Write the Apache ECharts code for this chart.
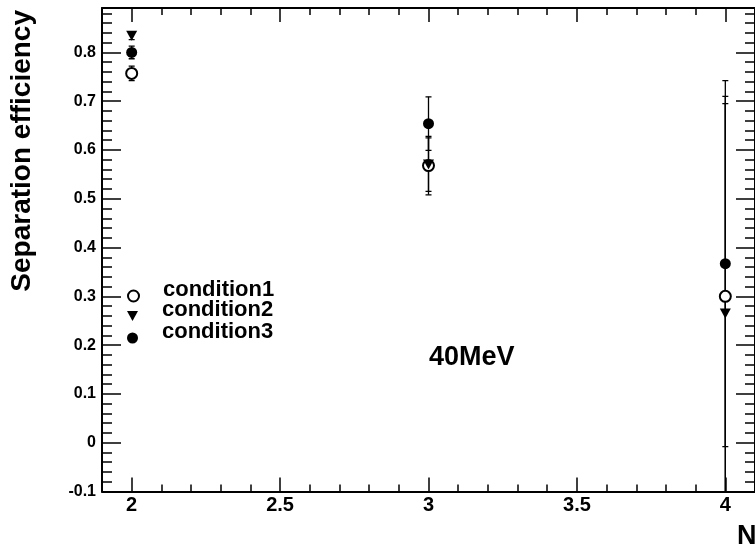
<!DOCTYPE html>
<html>
<head>
<meta charset="utf-8">
<script src="https://cdn.jsdelivr.net/npm/echarts@6/dist/echarts.min.js"></script>
<style>
html,body{margin:0;padding:0;background:#fff;}
#c{width:755px;height:550px;}
</style>
</head>
<body>
<div id="c"></div>
<script>
// ---- data ----
const nValues = [2, 3, 4];
const cond1 = [0.757, 0.568, 0.300];
const cond1Err = [0.015, 0.060, 0.410];
const cond2 = [0.834, 0.570, 0.265];
const cond2Err = [0.008, 0.055, 0.430];
const cond3 = [0.800, 0.654, 0.367];
const cond3Err = [0.013, 0.055, 0.375];
const seriesNames = ['condition1', 'condition2', 'condition3'];
const xMajorTicks = [2, 2.5, 3, 3.5, 4];
const yMajorTicks = [-0.1, 0, 0.1, 0.2, 0.3, 0.4, 0.5, 0.6, 0.7, 0.8];
const xRange = [1.9, 4.1];
const yRange = [-0.1, 0.891];
const xTitle = 'N';
const yTitle = 'Separation efficiency';
const energyLabel = '40MeV';

// minor tick positions
const xMinorTicks = [];
for (let i = 19; i <= 41; i++) xMinorTicks.push(Math.round(i) / 10);
const yMinorTicks = [];
for (let i = -5; i <= 44; i++) yMinorTicks.push(Math.round(i * 2) / 100);

const FONT = '"Liberation Sans", Arial, Helvetica, sans-serif';

function pts(vals) { return nValues.map((x, i) => [x, vals[i]]); }
function errs(vals, e) { return nValues.map((x, i) => [x, vals[i] - e[i], vals[i] + e[i]]); }

function errRender(params, api) {
  const x = api.value(0);
  const lo = api.coord([x, api.value(1)]);
  const hi = api.coord([x, api.value(2)]);
  const cw = 3;
  const st = { stroke: '#000', lineWidth: 1.3 };
  return {
    type: 'group',
    children: [
      { type: 'line', shape: { x1: lo[0], y1: lo[1], x2: hi[0], y2: hi[1] }, style: st },
      { type: 'line', shape: { x1: lo[0] - cw, y1: lo[1], x2: lo[0] + cw, y2: lo[1] }, style: st },
      { type: 'line', shape: { x1: hi[0] - cw, y1: hi[1], x2: hi[0] + cw, y2: hi[1] }, style: st }
    ]
  };
}

function xAxisDef(pos, ticks, len, labels, line) {
  return {
    type: 'value', position: pos, min: xRange[0], max: xRange[1], gridIndex: 0,
    axisLine: { show: line, onZero: false, lineStyle: { color: '#000', width: 2 } },
    axisTick: { show: true, inside: true, length: len, customValues: ticks, lineStyle: { color: '#000', width: 1.5 } },
    axisLabel: labels ? {
      show: true, customValues: ticks, color: '#000', fontFamily: FONT, fontWeight: 'bold', fontSize: 20, margin: 4,
      formatter: v => String(Math.round(v * 10) / 10)
    } : { show: false },
    splitLine: { show: false }, minorTick: { show: false }
  };
}
function yAxisDef(pos, ticks, len, labels, line) {
  return {
    type: 'value', position: pos, min: yRange[0], max: yRange[1], gridIndex: 0,
    axisLine: { show: line, onZero: false, lineStyle: { color: '#000', width: 2 } },
    axisTick: { show: true, inside: true, length: len, customValues: ticks, lineStyle: { color: '#000', width: 1.5 } },
    axisLabel: labels ? {
      show: true, customValues: ticks, color: '#000', fontFamily: FONT, fontWeight: 'bold', fontSize: 16, margin: 6,
      formatter: v => String(Math.round(v * 10) / 10)
    } : { show: false },
    splitLine: { show: false }, minorTick: { show: false }
  };
}

const symbols = ['emptyCircle', 'path://M0,0L10,0L5,9Z', 'circle'];
const values = [cond1, cond2, cond3];
const errors = [cond1Err, cond2Err, cond3Err];
const legendTops = [279, 299, 321];

const series = [];
values.forEach((v, k) => {
  series.push({
    type: 'custom', name: seriesNames[k] + ' err', xAxisIndex: 0, yAxisIndex: 0,
    renderItem: errRender, data: errs(v, errors[k]), clip: true, z: 2, silent: true,
    encode: { x: 0, y: [1, 2] }
  });
});
values.forEach((v, k) => {
  series.push({
    type: 'scatter', name: seriesNames[k], xAxisIndex: 0, yAxisIndex: 0,
    data: pts(v), symbol: symbols[k], symbolSize: k === 1 ? [11, 10] : 11, z: 3 + k,
    itemStyle: { color: '#000', opacity: 1, borderColor: '#000', borderWidth: k === 0 ? 1.4 : 0 },
    emphasis: { disabled: true }
  });
});

const legends = seriesNames.map((name, k) => ({
  orient: 'vertical', left: 127, top: legendTops[k], padding: 0,
  itemWidth: 11, itemHeight: 11, selectedMode: false,
  data: [{ name: name, icon: symbols[k] }],
  itemStyle: { color: '#000', opacity: 1, borderColor: '#000', borderWidth: k === 0 ? 1.4 : 0 },
  formatter: '{t|{name}}',
  textStyle: {
    color: '#000', fontFamily: FONT, fontWeight: 'bold', fontSize: 22,
    rich: { t: { color: '#000', fontFamily: FONT, fontWeight: 'bold', fontSize: 22, padding: [0, 0, 12, 19] } }
  }
}));

const chart = echarts.init(document.getElementById('c'), null, { renderer: 'canvas' });
chart.setOption({
  animation: false,
  backgroundColor: '#fff',
  grid: { left: 102, top: 8, right: 0, bottom: 58.5, containLabel: false },
  xAxis: [
    xAxisDef('bottom', xMajorTicks, 14, true, true),
    xAxisDef('bottom', xMinorTicks, 7, false, false),
    xAxisDef('top', xMajorTicks, 14, false, true),
    xAxisDef('top', xMinorTicks, 7, false, false)
  ],
  yAxis: [
    yAxisDef('left', yMajorTicks, 19, true, true),
    yAxisDef('left', yMinorTicks, 10, false, false),
    yAxisDef('right', yMajorTicks, 19, false, true),
    yAxisDef('right', yMinorTicks, 10, false, false)
  ],
  legend: legends,
  series: series,
  graphic: [
    { type: 'text', x: 22, y: 10, rotation: Math.PI / 2,
      style: { text: yTitle, fill: '#000', font: 'bold 28px ' + FONT, align: 'right', verticalAlign: 'middle' } },
    { type: 'text', x: 737, y: 537,
      style: { text: xTitle, fill: '#000', font: 'bold 27px ' + FONT, align: 'left', verticalAlign: 'middle' } },
    { type: 'text', x: 429, y: 358,
      style: { text: energyLabel, fill: '#000', font: 'bold 27px ' + FONT, align: 'left', verticalAlign: 'middle' } }
  ]
});
</script>
</body>
</html>
